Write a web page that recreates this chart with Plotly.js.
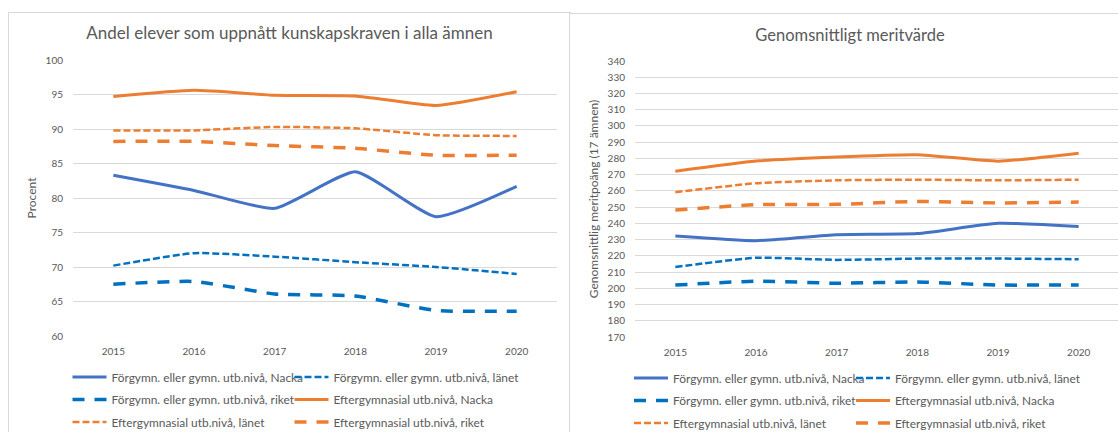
<!DOCTYPE html>
<html>
<head>
<meta charset="utf-8">
<script src="https://cdn.plot.ly/plotly-3.0.1.min.js"></script>
<style>
html, body { margin: 0; padding: 0; overflow: hidden; background: #fff; width: 1118px; height: 432px; }
.frame { position: absolute; border: 1px solid #d9d9d9; background: #fff; overflow: hidden; }
#f1 { left: 8px; top: 12px; width: 561px; height: 440px; }
#f2 { left: 569px; top: 13px; width: 580px; height: 440px; }
</style>
</head>
<body>
<div class="frame" id="f1"><div id="c1"></div></div>
<div class="frame" id="f2"><div id="c2"></div></div>
<script>
// ---- data ----
const years = ['2015', '2016', '2017', '2018', '2019', '2020'];
const seriesNames = [
  'Förgymn. eller gymn. utb.nivå, Nacka',
  'Förgymn. eller gymn. utb.nivå, länet',
  'Förgymn. eller gymn. utb.nivå, riket',
  'Eftergymnasial utb.nivå, Nacka',
  'Eftergymnasial utb.nivå, länet',
  'Eftergymnasial utb.nivå, riket'
];
// Andel elever som uppnått kunskapskraven i alla ämnen (Procent)
const andelForgymnNacka = [83.3, 81.1, 78.5, 83.8, 77.3, 81.7];
const andelForgymnLanet = [70.2, 72.0, 71.5, 70.7, 70.0, 69.0];
const andelForgymnRiket = [67.5, 67.9, 66.1, 65.8, 63.7, 63.6];
const andelEfterNacka   = [94.7, 95.6, 94.9, 94.8, 93.4, 95.4];
const andelEfterLanet   = [89.8, 89.8, 90.3, 90.1, 89.1, 89.0];
const andelEfterRiket   = [88.2, 88.2, 87.6, 87.2, 86.2, 86.2];
// Genomsnittligt meritvärde
const meritForgymnNacka = [232.2, 229.3, 233.0, 233.7, 240.0, 238.1];
const meritForgymnLanet = [213.1, 218.8, 217.5, 218.3, 218.3, 217.9];
const meritForgymnRiket = [202.0, 204.4, 203.1, 203.9, 202.0, 202.1];
const meritEfterNacka   = [272.1, 278.4, 280.9, 282.3, 278.3, 283.2];
const meritEfterLanet   = [259.2, 264.7, 266.5, 266.9, 266.5, 266.9];
const meritEfterRiket   = [248.2, 251.5, 251.7, 253.5, 252.6, 253.1];

const chart1Title = 'Andel elever som uppnått kunskapskraven i alla ämnen';
const chart1YTitle = 'Procent';
const chart2Title = 'Genomsnittligt meritvärde';
const chart2YTitle = 'Genomsnittlig meritpoäng (17 ämnen)';

// ---- styles ----
const FONT = 'Lato, "Open Sans", sans-serif';
const TXT = '#595959';
const styles = [
  {color: '#4472C4', width: 3, dash: 'solid', legend: 'legend', lw: 173},
  {color: '#0070C0', width: 2.5, dash: '7px,3px', legend: 'legend', lw: 200},
  {color: '#0070C0', width: 3.5, dash: '12px,10px', legend: 'legend2', lw: 173},
  {color: '#ED7D31', width: 3, dash: 'solid', legend: 'legend2', lw: 200},
  {color: '#ED7D31', width: 2.5, dash: '7px,3px', legend: 'legend3', lw: 173},
  {color: '#ED7D31', width: 3.5, dash: '12px,10px', legend: 'legend3', lw: 200}
];

function makeTraces(seriesList) {
  return seriesList.map((vals, i) => ({
    type: 'scatter', mode: 'lines', x: years, y: vals, name: seriesNames[i],
    legend: styles[i].legend, legendwidth: styles[i].lw,
    line: {color: styles[i].color, width: styles[i].width, dash: styles[i].dash, shape: 'spline', smoothing: 0.5},
    hoverinfo: 'x+y+name'
  }));
}

function legendObj(y, x) {
  return {
    orientation: 'h', x: x, xref: 'container', xanchor: 'left', y: y, yanchor: 'middle', yref: 'container',
    font: {family: FONT, size: 11.9, color: TXT}, entrywidth: 173, entrywidthmode: 'pixels',
    itemwidth: 34, bgcolor: 'rgba(0,0,0,0)', traceorder: 'normal'
  };
}

function makeLayout(o) {
  return {
    width: o.width, height: 420,
    margin: {l: o.l, r: o.width - o.l - o.pw, t: 47, b: 97, pad: 0},
    paper_bgcolor: '#fff', plot_bgcolor: '#fff',
    font: {family: FONT, size: 10, color: TXT},
    title: {text: o.title, x: o.tx, xref: 'container', xanchor: 'center', y: 1 - o.ty / 420, yref: 'container', yanchor: 'middle',
            font: {family: FONT, size: o.tsize, color: TXT}},
    xaxis: {type: 'category', range: [-0.5, 5.5], showgrid: false, zeroline: false, showline: false, ticks: '',
            tickfont: {family: FONT, size: 10, color: TXT}, ticklabelstandoff: 8, fixedrange: true},
    yaxis: {range: o.yrange, dtick: o.dtick, tick0: o.yrange[0], showgrid: true, gridcolor: '#d9d9d9', gridwidth: 1,
            zeroline: false, showline: false, ticks: '', tickfont: {family: FONT, size: 10, color: TXT},
            ticklabelstandoff: 9, fixedrange: true,
            title: {text: o.ytitle, font: {family: FONT, size: 12, color: TXT}, standoff: o.ystandoff}},
    showlegend: true,
    legend: legendObj(1 - 364 / 420, o.lx),
    legend2: legendObj(1 - 386.5 / 420, o.lx),
    legend3: legendObj(1 - 409 / 420, o.lx)
  };
}

Plotly.newPlot('c1', makeTraces([andelForgymnNacka, andelForgymnLanet, andelForgymnRiket, andelEfterNacka, andelEfterLanet, andelEfterRiket]),
  makeLayout({width: 561, l: 64, pw: 483.6, title: chart1Title, tsize: 17, tx: 0.5, ty: 20, yrange: [60, 100], dtick: 5,
              ytitle: chart1YTitle, ystandoff: 6, lx: 58.5 / 561}), {displayModeBar: false, staticPlot: true});

Plotly.newPlot('c2', makeTraces([meritForgymnNacka, meritForgymnLanet, meritForgymnRiket, meritEfterNacka, meritEfterLanet, meritEfterRiket]),
  makeLayout({width: 560, l: 65, pw: 484, title: chart2Title, tsize: 16.5, tx: 0.5, ty: 21, yrange: [170, 340], dtick: 10,
              ytitle: chart2YTitle, ystandoff: 6, lx: 59 / 560}), {displayModeBar: false, staticPlot: true});
</script>
</body>
</html>
